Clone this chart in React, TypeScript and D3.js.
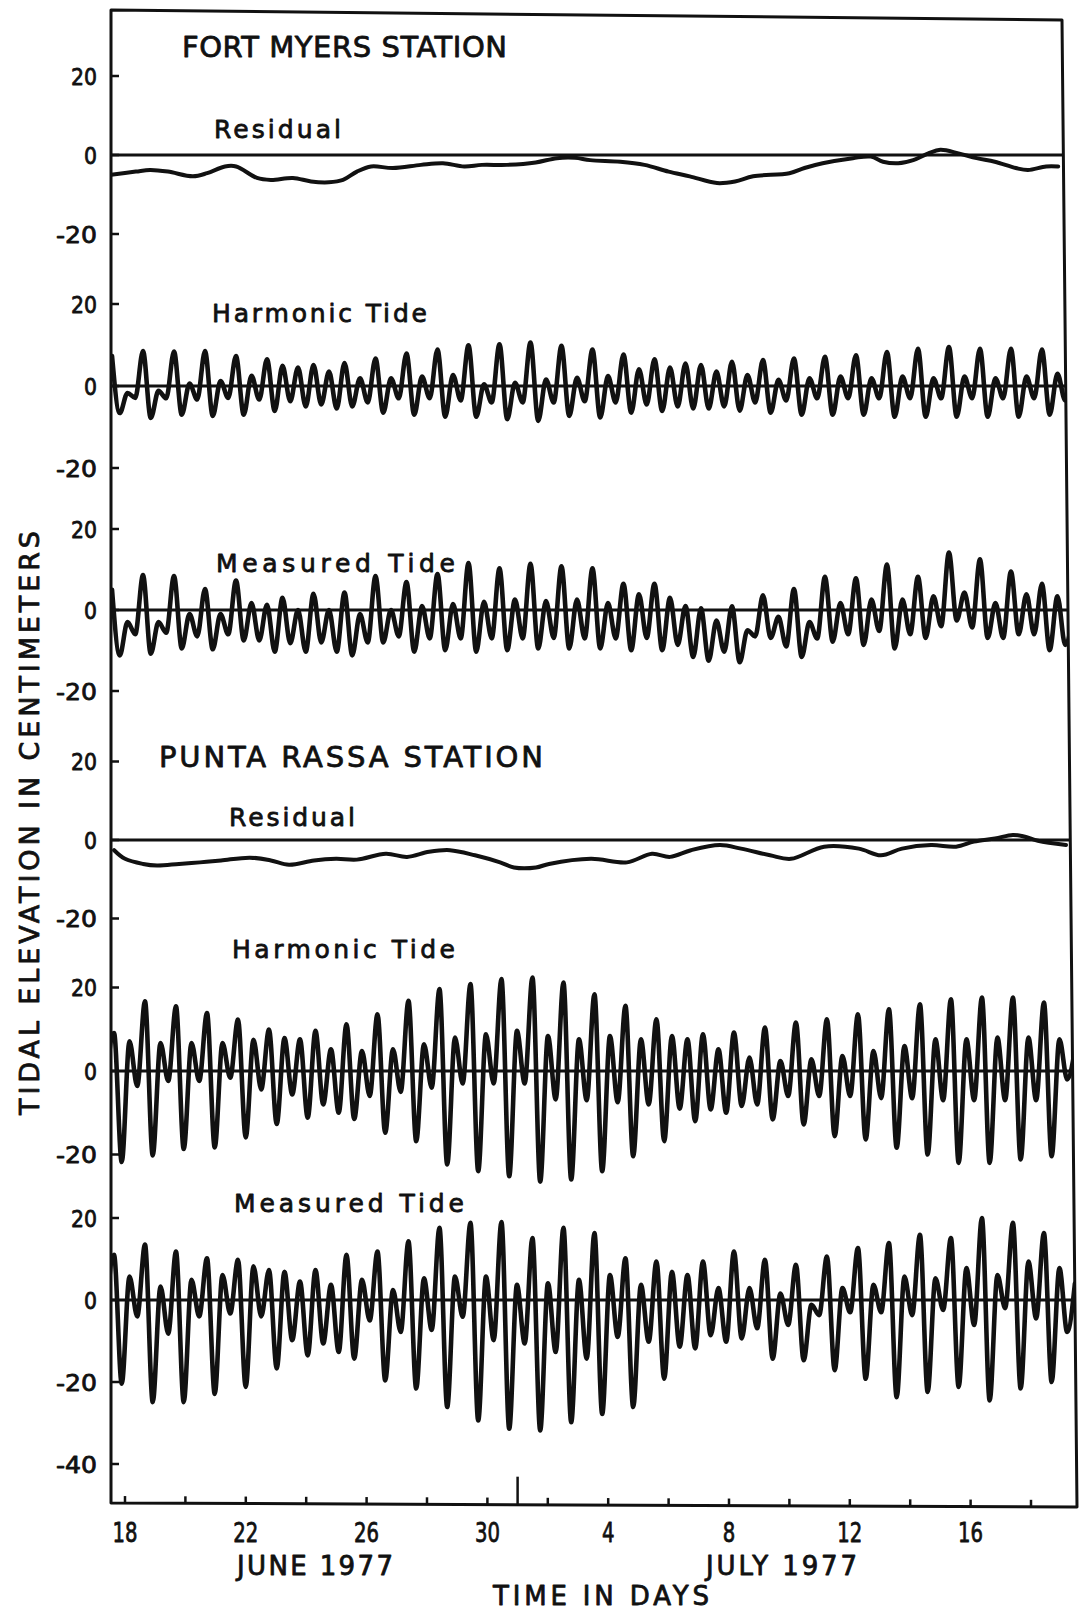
import React, { useEffect, useRef } from 'react';
import * as d3 from 'd3';

// time axis, days counted from 18 June 1977
const axisTickDays = [0, 2, 4, 6, 8, 10, 12, 14, 16, 18, 20, 22, 24, 26, 28, 30];
const axisLabelDays = [0, 4, 8, 12, 16, 20, 24, 28];
const axisLabels = ['18', '22', '26', '30', '4', '8', '12', '16'];
const monthBreakDay = 13; // 1 July

// successive high / low waters, read every ~6.2 h
const tideStep = 0.2566;
const fortMyersFirstDay = -0.43;
const puntaRassaFirstDay = -0.621;

// residuals as [day, cm]
const fortMyersResidual: [number, number][] = [
  [-0.46, -5], [0.36, -4.2], [0.83, -3.8], [1.42, -4.2], [2.25, -5.4], [2.72, -4.6], [3.31, -2.9], [3.68, -2.9],
  [4.37, -5.8], [4.83, -6.3], [5.56, -5.8], [6.16, -6.7], [6.75, -6.9], [7.22, -6.3], [7.68, -4.2], [8.15, -2.9],
  [8.87, -3.3], [9.8, -2.5], [10.53, -2.1], [11.23, -2.9], [11.82, -2.5], [12.65, -2.5], [13.6, -1.9], [14.3, -0.8],
  [14.9, -0.7], [15.4, -1.3], [16.4, -1.7], [17.2, -2.5], [18.0, -4.2], [18.7, -5.4], [19.6, -7.1], [20.2, -6.7],
  [20.8, -5.4], [22.0, -4.6], [22.5, -3.3], [23.1, -2.1], [24.1, -0.8], [24.7, -0.4], [25.1, -1.7], [25.6, -2.1],
  [26.1, -1.3], [26.6, 0.4], [27.0, 1.3], [27.6, 0.4], [28.2, -0.8], [28.8, -1.7], [29.5, -3.3], [29.9, -3.8],
  [30.5, -2.9], [30.9, -2.9],
];

// high, low, high, low ... in cm
const fortMyersHarmonic = [
  7.3, -6.6, -1.7, -2.9,
  8.5, -7.8, -1.2, -3.0,
  8.4, -7.0, 0.6, -3.3,
  8.5, -7.3, 1.2, -2.9,
  7.3, -7.0, 2.5, -3.3,
  6.5, -6.1, 4.9, -3.7,
  4.5, -5.0, 5.1, -4.5,
  3.5, -5.5, 5.6, -5.0,
  1.9, -4.0, 6.7, -6.5,
  1.9, -3.0, 7.9, -7.0,
  2.3, -3.0, 8.9, -7.5,
  2.7, -3.5, 9.9, -7.5,
  0.4, -4.0, 10.2, -8.1,
  0.8, -4.0, 10.6, -8.5,
  1.6, -4.0, 9.8, -7.3,
  2.0, -3.7, 8.9, -7.7,
  2.4, -4.0, 7.7, -6.5,
  4.1, -4.5, 6.5, -6.1,
  4.5, -5.0, 5.5, -5.5,
  5.1, -5.5, 3.5, -5.0,
  5.9, -6.0, 2.7, -4.0,
  6.3, -6.5, 1.5, -3.5,
  6.7, -7.0, 1.9, -3.0,
  7.1, -7.0, 2.3, -3.0,
  7.5, -7.0, 1.9, -3.0,
  8.3, -7.5, 2.3, -3.0,
  9.1, -7.5, 1.9, -3.0,
  9.5, -7.5, 2.3, -3.0,
  9.1, -7.5, 1.9, -3.0,
  9.1, -7.5, 2.3, -3.0,
  8.9, -7.0, 3.0, -3.5,
  5.0,
];

const fortMyersMeasured = [
  5.0, -11.2, -3.0, -6.0,
  8.6, -10.8, -3.0, -5.6,
  8.4, -9.5, -1.0, -6.5,
  5.2, -9.7, -1.0, -6.0,
  7.3, -7.5, 1.7, -7.5,
  1.3, -10.3, 3.0, -8.2,
  0.0, -10.3, 4.0, -8.0,
  0.0, -10.3, 4.3, -11.2,
  -1.0, -8.0, 8.4, -8.0,
  0.0, -6.5, 6.9, -10.3,
  1.0, -7.0, 8.9, -9.9,
  1.5, -7.0, 11.6, -10.3,
  2.0, -7.0, 10.3, -9.9,
  2.6, -7.0, 11.4, -9.5,
  2.2, -6.9, 10.8, -9.5,
  2.6, -7.0, 10.3, -9.5,
  1.7, -7.0, 6.5, -9.9,
  3.9, -6.9, 6.5, -9.9,
  3.0, -8.6, 1.0, -11.6,
  0.4, -12.5, -2.6, -10.3,
  0.9, -12.9, -5.0, -6.5,
  3.6, -6.9, -1.7, -9.0,
  5.2, -11.6, -3.0, -7.0,
  8.2, -7.8, 1.7, -6.0,
  7.8, -8.6, 2.6, -5.2,
  11.2, -9.5, 2.6, -6.0,
  8.2, -6.9, 3.4, -4.0,
  14.2, -2.6, 4.3, -4.3,
  12.5, -6.9, 1.7, -6.9,
  9.5, -6.0, 3.9, -6.0,
  6.5, -9.9, 3.4, -8.6,
  -1.7,
];

const puntaRassaResidual: [number, number][] = [
  [-0.36, -2.6], [0, -4.8], [0.6, -6.1], [1.06, -6.5], [1.79, -6.1], [2.48, -5.7], [3.18, -5.2], [4.14, -4.5],
  [4.83, -5.2], [5.43, -6.3], [6.26, -5.2], [6.99, -4.8], [7.68, -5.0], [8.64, -3.5], [9.34, -4.3], [10.07, -3.0],
  [10.76, -2.6], [11.59, -3.9], [12.42, -5.7], [12.88, -7.0], [13.61, -7.0], [14.04, -6.1], [15.43, -4.8], [16.62, -5.7],
  [17.45, -3.5], [18.05, -4.3], [18.74, -2.6], [19.7, -1.3], [20.4, -2.2], [21.36, -3.9], [22.05, -4.8], [23.15, -1.7],
  [24.3, -2.2], [25.03, -3.9], [25.73, -2.2], [26.69, -1.3], [27.52, -1.7], [28.11, -0.4], [28.81, 0.4], [29.4, 1.3],
  [29.77, 0.9], [30.23, -0.2], [31.16, -1.3],
];

// starts with a low water
const puntaRassaHarmonic = [
  -2.0,
  9.1, -21.8, 7.1, -3.6,
  16.7, -20.2, 6.7, -2.4,
  15.5, -18.7, 6.7, -2.4,
  13.9, -18.3, 6.7, -1.6,
  12.3, -15.9, 7.5, -4.4,
  9.9, -12.7, 7.9, -5.6,
  7.6, -11.2, 9.6, -8.0,
  5.2, -10.0, 11.2, -11.5,
  4.8, -6.0, 13.6, -14.8,
  5.2, -5.0, 16.8, -16.8,
  6.4, -4.0, 19.6, -22.4,
  8.0, -3.0, 20.8, -24.0,
  8.8, -3.0, 22.0, -25.2,
  9.6, -3.0, 22.4, -26.5,
  8.4, -6.8, 21.2, -26.0,
  7.6, -7.0, 18.4, -24.0,
  8.4, -7.5, 15.6, -20.4,
  7.6, -8.0, 12.4, -16.8,
  8.4, -9.0, 7.6, -12.0,
  8.8, -9.2, 5.2, -10.0,
  9.2, -8.4, 3.2, -8.0,
  10.4, -11.6, 2.4, -6.0,
  11.6, -12.8, 2.8, -6.0,
  12.4, -15.6, 3.6, -6.0,
  13.6, -16.4, 4.8, -6.5,
  14.8, -18.4, 6.0, -6.5,
  16.0, -20.0, 7.6, -7.0,
  17.2, -22.0, 7.6, -7.0,
  17.6, -22.0, 8.0, -7.0,
  17.6, -21.2, 8.0, -7.0,
  16.4, -20.4, 7.6, -2.0,
  5.0,
];

const puntaRassaMeasured = [
  -3.0,
  11.0, -20.4, 5.7, -4.0,
  13.5, -24.9, 3.3, -8.2,
  11.8, -24.9, 4.9, -4.0,
  10.2, -22.9, 6.1, -3.3,
  9.8, -21.2, 8.2, -4.0,
  7.3, -16.7, 6.9, -9.8,
  4.5, -13.5, 7.3, -10.6,
  3.7, -12.7, 11.0, -14.3,
  4.9, -5.0, 11.8, -19.6,
  2.4, -7.8, 14.3, -21.6,
  5.3, -7.3, 17.6, -26.1,
  5.7, -4.1, 18.8, -29.4,
  5.7, -9.8, 19.0, -31.4,
  3.7, -10.6, 15.1, -31.8,
  4.1, -12.7, 17.6, -29.8,
  4.9, -14.3, 16.3, -27.8,
  6.1, -9.0, 10.2, -26.1,
  3.7, -10.2, 9.4, -19.2,
  6.9, -11.4, 6.1, -11.8,
  9.4, -8.6, 2.9, -10.2,
  11.8, -9.4, 2.9, -6.9,
  9.8, -14.3, 1.6, -6.1,
  8.6, -14.7, -1.2, -3.7,
  10.6, -17.1, 2.9, -3.0,
  12.7, -19.2, 3.7, -3.0,
  13.9, -23.7, 5.7, -3.7,
  15.9, -22.4, 5.3, -2.4,
  15.1, -21.2, 7.8, -6.1,
  20.0, -24.5, 6.1, -2.0,
  18.8, -21.6, 9.4, -4.5,
  16.3, -20.0, 7.8, -7.8,
  4.0,
];

const W = 1085;
const H = 1617;
const FONT = "'DejaVu Sans', sans-serif";
const INK = '#111';

// panel placement: zero line and pixels per 20 cm
const panels = [
  { zero: 155, per20: 79, ticks: [20, 0, -20], kind: 'res', residual: fortMyersResidual },
  { zero: 386, per20: 82, ticks: [20, 0, -20], kind: 'tide', tide: fortMyersHarmonic, first: fortMyersFirstDay },
  { zero: 610, per20: 81, ticks: [20, 0, -20], kind: 'tide', tide: fortMyersMeasured, first: fortMyersFirstDay },
  { zero: 840, per20: 78.5, ticks: [20, 0, -20], kind: 'res', residual: puntaRassaResidual },
  { zero: 1071, per20: 83.5, ticks: [20, 0, -20], kind: 'tide', tide: puntaRassaHarmonic, first: puntaRassaFirstDay },
  { zero: 1300, per20: 82, ticks: [20, 0, -20, -40], kind: 'tide', tide: puntaRassaMeasured, first: puntaRassaFirstDay },
];

const titles = [
  { text: 'FORT MYERS STATION', x: 182, y: 57, w: 325, size: 29 },
  { text: 'Residual', x: 214, y: 138, w: 127, size: 25 },
  { text: 'Harmonic Tide', x: 212, y: 322, w: 215, size: 25 },
  { text: 'Measured Tide', x: 216, y: 572, w: 239, size: 25 },
  { text: 'PUNTA RASSA STATION', x: 159, y: 767, w: 384, size: 29 },
  { text: 'Residual', x: 229, y: 826, w: 126, size: 25 },
  { text: 'Harmonic Tide', x: 232, y: 958, w: 223, size: 25 },
  { text: 'Measured Tide', x: 234, y: 1212, w: 230, size: 25 },
  { text: 'JUNE 1977', x: 237, y: 1575, w: 156, size: 26 },
  { text: 'JULY 1977', x: 706, y: 1575, w: 151, size: 26 },
  { text: 'TIME IN DAYS', x: 493, y: 1605, w: 216, size: 26 },
];

// the scanned frame is slightly skewed
const frameCorners: [number, number][] = [[111, 10], [1062, 20], [1077, 1507], [111, 1503]];

const App: React.FC = () => {
  const chartRef = useRef<HTMLDivElement | null>(null);

  useEffect(() => {
    d3.select(chartRef.current).selectAll('*').remove();

    const svg = d3.select(chartRef.current)
      .append('svg')
      .attr('width', W)
      .attr('height', H)
      .style('display', 'block')
      .style('background', '#fff');

    const xScale = d3.scaleLinear().domain([0, 30]).range([125, 1031]);
    const bottomAt = (x: number) => 1503 + (x - 111) * 4 / 966;

    // lettering: regular face with a thin outline to thicken the strokes
    const letter = (sel: d3.Selection<SVGTextElement, unknown, null, undefined>, size: number) =>
      sel.attr('font-family', FONT)
        .attr('font-size', size)
        .attr('fill', INK)
        .attr('stroke', INK)
        .attr('stroke-width', 0.8)
        .attr('stroke-linejoin', 'round');

    svg.append('clipPath')
      .attr('id', 'plot-area')
      .append('path')
      .attr('d', 'M' + frameCorners.map(p => p.join(',')).join('L') + 'Z');

    // frame
    svg.append('path')
      .attr('d', 'M' + frameCorners.map(p => p.join(',')).join('L') + 'Z')
      .attr('fill', 'none')
      .attr('stroke', INK)
      .attr('stroke-width', 3)
      .attr('stroke-linejoin', 'round');

    const plot = svg.append('g').attr('clip-path', 'url(#plot-area)');

    panels.forEach(p => {
      const yScale = d3.scaleLinear().domain([-20, 20]).range([p.zero + p.per20, p.zero - p.per20]);

      // zero line
      plot.append('line')
        .attr('x1', 111).attr('x2', 1080)
        .attr('y1', yScale(0)).attr('y2', yScale(0))
        .attr('stroke', INK).attr('stroke-width', 3);

      // ticks on the left frame and their labels
      p.ticks.forEach(t => {
        svg.append('line')
          .attr('x1', 111).attr('x2', 119)
          .attr('y1', yScale(t)).attr('y2', yScale(t))
          .attr('stroke', INK).attr('stroke-width', 2.5);
        const label = String(t);
        const len = label.replace('-', '').length * 13 + (t < 0 ? 15 : 0);
        letter(svg.append('text'), 23)
          .attr('x', 97)
          .attr('y', yScale(t) + 8.5)
          .attr('text-anchor', 'end')
          .attr('textLength', len)
          .attr('lengthAdjust', 'spacingAndGlyphs')
          .text(label);
      });

      let points: [number, number][];
      let curve: d3.CurveFactory;
      if (p.kind === 'res') {
        points = p.residual as [number, number][];
        curve = d3.curveCatmullRom.alpha(0.5);
      } else {
        const first = p.first as number;
        points = (p.tide as number[]).map((v, i) => [first + i * tideStep, v] as [number, number]);
        curve = d3.curveMonotoneX;
      }

      const line = d3.line<[number, number]>()
        .x(d => xScale(d[0]))
        .y(d => yScale(d[1]))
        .curve(curve);

      plot.append('path')
        .datum(points)
        .attr('d', line)
        .attr('fill', 'none')
        .attr('stroke', INK)
        .attr('stroke-width', p.kind === 'res' ? 4 : 4.6)
        .attr('stroke-linejoin', 'round')
        .attr('stroke-linecap', 'round');
    });

    // bottom time axis ticks
    axisTickDays.forEach(d => {
      const x = xScale(d);
      svg.append('line')
        .attr('x1', x).attr('x2', x)
        .attr('y1', bottomAt(x)).attr('y2', bottomAt(x) - 7)
        .attr('stroke', INK).attr('stroke-width', 2.5);
    });
    const xb = xScale(monthBreakDay);
    svg.append('line')
      .attr('x1', xb).attr('x2', xb)
      .attr('y1', bottomAt(xb)).attr('y2', bottomAt(xb) - 28)
      .attr('stroke', INK).attr('stroke-width', 2.5);

    axisLabelDays.forEach((d, i) => {
      letter(svg.append('text'), 26)
        .attr('x', xScale(d))
        .attr('y', 1542)
        .attr('text-anchor', 'middle')
        .attr('textLength', axisLabels[i].length * 12.5)
        .attr('lengthAdjust', 'spacingAndGlyphs')
        .text(axisLabels[i]);
    });

    titles.forEach(t => {
      letter(svg.append('text'), t.size)
        .attr('x', t.x)
        .attr('y', t.y)
        .attr('textLength', t.w)
        .attr('lengthAdjust', 'spacing')
        .text(t.text);
    });

    // vertical axis title
    letter(svg.append('text'), 27)
      .attr('transform', 'translate(39,823) rotate(-90)')
      .attr('text-anchor', 'middle')
      .attr('textLength', 584)
      .attr('lengthAdjust', 'spacing')
      .text('TIDAL ELEVATION IN CENTIMETERS');
  }, []);

  return (
    <div
      ref={chartRef}
      style={{ position: 'absolute', left: 0, top: 0, width: W, height: H, overflow: 'hidden', background: '#fff' }}
    ></div>
  );
};

export default App;
